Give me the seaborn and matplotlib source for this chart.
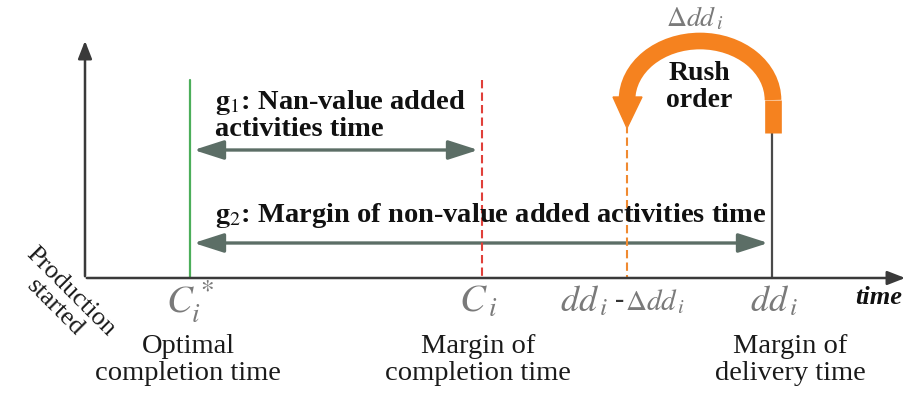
import numpy as np
import matplotlib.pyplot as plt
import seaborn as sns
from matplotlib.patches import Arc, FancyArrowPatch, Polygon

# timeline events (position along the time axis)
event_names = ["optimal", "margin", "rush", "delivery"]
event_x = [190, 482, 627, 772]
event_top = [80, 80, 125, 133]
event_colors = ["#4cae5a", "#e0403a", "#f08a30", "#4a4a4a"]
event_styles = ["-", "--", "--", "-"]

tick_math = [r"$C_i^*$", r"$C_{\,i}$", r"$dd_{\,i}$", r"$dd_{\,i}$"]
tick_shift = [0, -4, 0, 2]
tick_desc = ["Optimal\ncompletion time", "Margin of\ncompletion time", "", "Margin of\ndelivery time"]
desc_x = [188, 478, 0, 790]

gap_labels = [r"$\mathbf{g}_{\mathit{1}}$: Nan-value added" + "\nactivities time",
              r"$\mathbf{g}_{\mathit{2}}$: Margin of non-value added activities time"]
gap_start = [190, 190]
gap_end = [482, 772]
gap_y = [150, 243]

sns.set_theme(style="white")
plt.rcParams["font.family"] = ["Liberation Serif", "DejaVu Serif"]
plt.rcParams["mathtext.fontset"] = "stix"

fig = plt.figure(figsize=(9.11, 4), dpi=100)
ax = fig.add_axes([0, 0, 1, 1])
ax.set_xlim(0, 911)
ax.set_ylim(400, 0)
ax.axis("off")

axis_col = "#3a3a3a"
# axes with arrows
ax.annotate("", xy=(85, 38), xytext=(85, 279),
            arrowprops=dict(arrowstyle="-|>,head_width=0.35,head_length=0.9", color=axis_col, lw=1.8))
ax.annotate("", xy=(908, 278), xytext=(84, 278),
            arrowprops=dict(arrowstyle="-|>,head_width=0.35,head_length=0.9", color=axis_col, lw=1.8))

# event lines
for x, top, c, ls in zip(event_x, event_top, event_colors, event_styles):
    ax.plot([x, x], [top, 278], color=c, ls=ls, lw=1.5 if ls == "--" else 1.6,
            dashes=(4, 2) if ls == "--" else (None, None))

# gap arrows
arrow_col = "#5c6e66"
for x0, x1, y in zip(gap_start, gap_end, gap_y):
    ax.add_patch(FancyArrowPatch((x0 + 1, y), (x1 - 1, y),
                                 arrowstyle="<|-|>,head_width=0.45,head_length=1.4",
                                 color=arrow_col, lw=2.4, mutation_scale=13))
ax.text(215, 115, gap_labels[0], fontsize=20.5, fontweight="bold", va="center",
        linespacing=1.05, color="#111111")
ax.text(215, 216, gap_labels[1], fontsize=20.5, fontweight="bold", va="center", color="#111111")

# tick labels
tick_col = "#7a7a7a"
for i, (x, lab) in enumerate(zip(event_x, tick_math)):
    if event_names[i] == "rush":
        ax.text(x - 19, 302, lab, fontsize=26, color=tick_col, ha="right", va="center")
        ax.text(x - 12, 301, "-", fontsize=20, fontweight="bold", color="#333333",
                ha="left", va="center")
        ax.text(x - 2, 302, r"$\Delta dd_{\,i}$", fontsize=21, color=tick_col, ha="left", va="center")
    else:
        ax.text(x + tick_shift[i], 302, lab, fontsize=28 if i < 2 else 26, color=tick_col,
                ha="center", va="center")
    if tick_desc[i]:
        ax.text(desc_x[i], 360, tick_desc[i], fontsize=20.5, ha="center", va="center",
                linespacing=1.1, color="#1a1a1a")

ax.text(879, 297, "time", fontsize=19, fontweight="bold", style="italic", ha="center", va="center",
        color="#111111")
ax.text(63, 300, "Production\nstarted", fontsize=19, rotation=-45, ha="center", va="center",
        rotation_mode="anchor", linespacing=1.0, color="#1a1a1a")

# rush order arc
orange = "#f5821f"
ax.add_patch(Arc((700, 100), 146, 118, theta1=180, theta2=360, color=orange, lw=12))
ax.plot([773, 773], [100, 133], color=orange, lw=12, solid_capstyle="butt")
ax.add_patch(Polygon([[613, 97], [642, 97], [627, 128]], closed=True, color=orange))
ax.text(699, 87, "Rush\norder", fontsize=20, fontweight="bold", ha="center", va="center",
        linespacing=1.15, color="#111111")
ax.text(695, 19, r"$\Delta dd_{\,i}$", fontsize=20, color=tick_col, ha="center", va="center")

fig.savefig("out.png", dpi=100)
